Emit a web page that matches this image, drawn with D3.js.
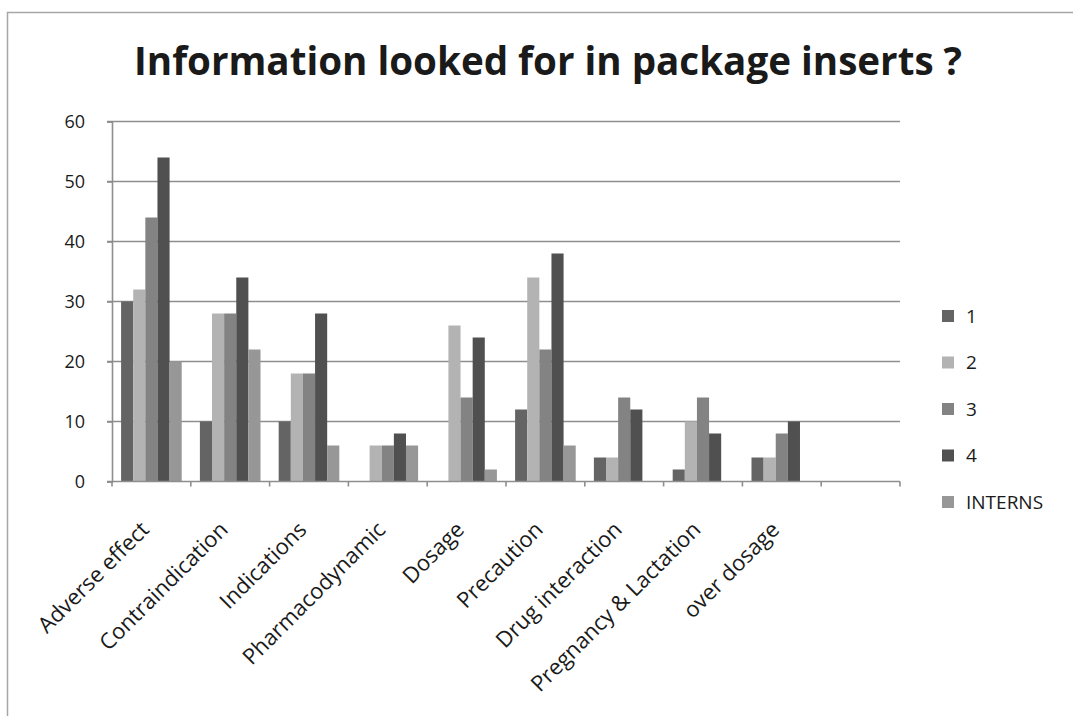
<!DOCTYPE html>
<html>
<head>
<meta charset="utf-8">
<script src="https://cdn.jsdelivr.net/npm/d3@7/dist/d3.min.js"></script>
<style>
  html, body { margin: 0; padding: 0; background: #fff; }
  svg { display: block; }
  text { font-family: "Open Sans", Lato, sans-serif; fill: #1a1a1a; }
</style>
</head>
<body>
<script>
// Categories on the x axis (the last slot is left empty)
const categories = ["Adverse effect", "Contraindication", "Indications", "Pharmacodynamic",
  "Dosage", "Precaution", "Drug interaction", "Pregnancy & Lactation", "over dosage", ""];

// Series names, in legend order
const seriesNames = ["1", "2", "3", "4", "INTERNS"];

// Values per series, one per category
const series1 = [30, 10, 10, 0, 0, 12, 4, 2, 4];
const series2 = [32, 28, 18, 6, 26, 34, 4, 10, 4];
const series3 = [44, 28, 18, 6, 14, 22, 14, 14, 8];
const series4 = [54, 34, 28, 8, 24, 38, 12, 8, 10];
const seriesInterns = [20, 22, 6, 6, 2, 6, 0, 0, 0];

const yTicks = [0, 10, 20, 30, 40, 50, 60];

const title = "Information looked for in package inserts ?";

const seriesValues = [series1, series2, series3, series4, seriesInterns];
const colors = ["#646464", "#b3b3b3", "#838383", "#505050", "#979797"];

const W = 1073, H = 716;
const plot = { left: 112, right: 900, top: 121.5, bottom: 481.5 };

const svg = d3.select("body").append("svg")
  .attr("width", W).attr("height", H);

// Outer chart frame
svg.append("rect")
  .attr("x", 7.5).attr("y", 12.5)
  .attr("width", W + 20).attr("height", H + 20)
  .attr("fill", "#fff")
  .attr("stroke", "#a6a6a6").attr("stroke-width", 1.5);

// Title
svg.append("text")
  .attr("x", 548).attr("y", 75)
  .attr("text-anchor", "middle")
  .style("font-size", "38.6px").style("font-weight", "bold")
  .text(title);

const x0 = d3.scaleBand().domain(categories).range([plot.left, plot.right]).padding(0);
const x1 = d3.scaleBand().domain(seriesNames).range([0, x0.bandwidth()])
  .paddingInner(0).paddingOuter(0.75);
const y = d3.scaleLinear().domain([0, 60]).range([plot.bottom, plot.top]);

// Gridlines
const grid = svg.append("g").attr("class", "grid");
grid.selectAll("line").data(yTicks.filter(t => t > 0)).join("line")
  .attr("x1", plot.left - 5).attr("x2", plot.right)
  .attr("y1", d => y(d)).attr("y2", d => y(d))
  .attr("stroke", "#8e8e8e").attr("stroke-width", 1.6);

// Bars
const rows = categories.slice(0, series1.length).map((c, i) => ({
  category: c,
  values: seriesNames.map((s, k) => ({ series: s, k, value: seriesValues[k][i] }))
}));

svg.append("g").selectAll("g").data(rows).join("g")
  .attr("transform", d => `translate(${x0(d.category)},0)`)
  .selectAll("rect").data(d => d.values.filter(v => v.value > 0)).join("rect")
  .attr("x", d => x1(d.series))
  .attr("width", x1.bandwidth())
  .attr("y", d => y(d.value))
  .attr("height", d => y(0) - y(d.value))
  .attr("fill", d => colors[d.k]);

// Y axis
const yAxis = d3.axisLeft(y).tickValues(yTicks).tickSize(5).tickPadding(22);
const gy = svg.append("g").attr("transform", `translate(${plot.left},0)`).call(yAxis);
gy.select(".domain").attr("stroke", "#8e8e8e").attr("stroke-width", 1.6);
gy.selectAll(".tick line").attr("stroke", "#8e8e8e").attr("stroke-width", 1.6);
gy.selectAll(".tick text")
  .style("font-size", "18px").style("font-family", "'Open Sans', sans-serif").attr("fill", "#1a1a1a");

// X axis line with ticks between categories
const gx = svg.append("g");
gx.append("line")
  .attr("x1", plot.left - 5).attr("x2", plot.right)
  .attr("y1", plot.bottom).attr("y2", plot.bottom)
  .attr("stroke", "#8e8e8e").attr("stroke-width", 1.6);
gx.selectAll("line.tk").data(categories.concat(["end"])).join("line").attr("class", "tk")
  .attr("x1", (d, i) => plot.left + i * x0.step()).attr("x2", (d, i) => plot.left + i * x0.step())
  .attr("y1", plot.bottom).attr("y2", plot.bottom + 5)
  .attr("stroke", "#8e8e8e").attr("stroke-width", 1.6);

// Rotated category labels
gx.selectAll("text").data(categories.filter(c => c)).join("text")
  .attr("text-anchor", "end")
  .attr("transform", d => `translate(${x0(d) + x0.bandwidth() / 2 - 1},531) rotate(-45)`)
  .style("font-size", "22px")
  .text(d => d);

// Legend
const legend = svg.append("g");
const li = legend.selectAll("g").data(seriesNames).join("g")
  .attr("transform", (d, i) => `translate(942,${316 + i * 46.5})`);
li.append("rect").attr("x", 0).attr("y", -6).attr("width", 12).attr("height", 12)
  .attr("fill", (d, i) => colors[i]);
li.append("text").attr("x", 24).attr("y", 0).attr("dy", "0.36em")
  .style("font-size", "19px").text(d => d);
</script>
</body>
</html>
